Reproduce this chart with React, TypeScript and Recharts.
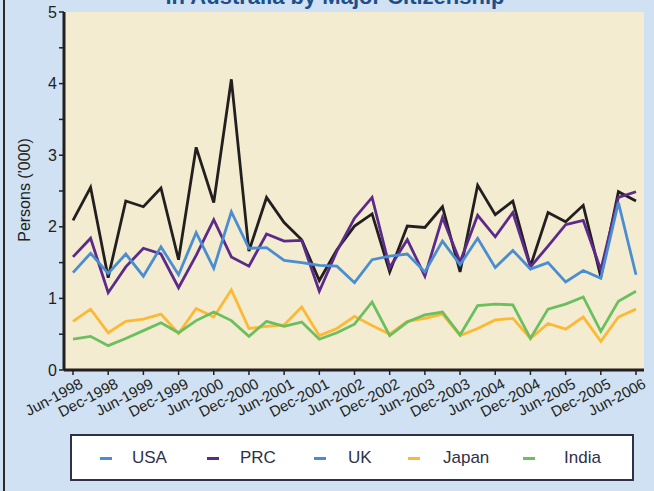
import React from "react";
import { Line, LineChart, XAxis, YAxis } from "recharts";

const quarters = [
  "Jun-1998", "Sep-1998", "Dec-1998", "Mar-1999", "Jun-1999", "Sep-1999", "Dec-1999", "Mar-2000",
  "Jun-2000", "Sep-2000", "Dec-2000", "Mar-2001", "Jun-2001", "Sep-2001", "Dec-2001", "Mar-2002",
  "Jun-2002", "Sep-2002", "Dec-2002", "Mar-2003", "Jun-2003", "Sep-2003", "Dec-2003", "Mar-2004",
  "Jun-2004", "Sep-2004", "Dec-2004", "Mar-2005", "Jun-2005", "Sep-2005", "Dec-2005", "Mar-2006",
  "Jun-2006",
];

const usa = [
  2.09, 2.55, 1.29, 2.36, 2.28, 2.54, 1.54, 3.11, 2.34, 4.06, 1.66, 2.41, 2.06, 1.82, 1.25, 1.68,
  2.01, 2.18, 1.37, 2.01, 1.99, 2.28, 1.37, 2.58, 2.17, 2.36, 1.45, 2.2, 2.07, 2.3, 1.3, 2.49, 2.36,
];
const prc = [
  1.58, 1.84, 1.08, 1.44, 1.7, 1.62, 1.15, 1.6, 2.1, 1.58, 1.45, 1.9, 1.8, 1.81, 1.1, 1.66,
  2.12, 2.41, 1.43, 1.82, 1.31, 2.13, 1.51, 2.16, 1.86, 2.2, 1.44, 1.73, 2.03, 2.09, 1.4, 2.41, 2.49,
];
const uk = [
  1.36, 1.63, 1.35, 1.62, 1.31, 1.72, 1.33, 1.92, 1.42, 2.21, 1.7, 1.71, 1.53, 1.5, 1.46, 1.45,
  1.22, 1.54, 1.59, 1.62, 1.37, 1.8, 1.47, 1.84, 1.43, 1.67, 1.41, 1.5, 1.23, 1.39, 1.28, 2.34, 1.33,
];
const japan = [
  0.68, 0.85, 0.52, 0.68, 0.71, 0.78, 0.51, 0.86, 0.74, 1.12, 0.58, 0.61, 0.63, 0.88, 0.48, 0.58,
  0.75, 0.62, 0.5, 0.68, 0.72, 0.78, 0.48, 0.58, 0.7, 0.72, 0.44, 0.65, 0.57, 0.74, 0.4, 0.74, 0.85,
];
const india = [
  0.43, 0.47, 0.34, 0.44, 0.55, 0.66, 0.52, 0.69, 0.81, 0.69, 0.47, 0.68, 0.61, 0.67, 0.43, 0.52,
  0.64, 0.95, 0.48, 0.67, 0.77, 0.81, 0.49, 0.9, 0.92, 0.91, 0.44, 0.85, 0.92, 1.02, 0.54, 0.96, 1.1,
];

const yTicks = [0, 0.5, 1, 1.5, 2, 2.5, 3, 3.5, 4, 4.5, 5];

const series = [
  { key: "USA", color: "#231f20" },
  { key: "PRC", color: "#5b2a8a" },
  { key: "UK", color: "#4a8dd0" },
  { key: "Japan", color: "#fdb933" },
  { key: "India", color: "#6cbf5f" },
];

// legend swatches as drawn in the original (USA shows blue there)
const legendItems = [
  { name: "USA", color: "#4a8dd0", x: 28, tx: 60 },
  { name: "PRC", color: "#5b2a8a", x: 135, tx: 168 },
  { name: "UK", color: "#4a8dd0", x: 242, tx: 276 },
  { name: "Japan", color: "#fdb933", x: 336, tx: 371 },
  { name: "India", color: "#6cbf5f", x: 451, tx: 492 },
];

const data = quarters.map((q, i) => ({
  name: q,
  USA: usa[i],
  PRC: prc[i],
  UK: uk[i],
  Japan: japan[i],
  India: india[i],
}));

const ink = "#231f20";
const font = "'Liberation Sans', Arial, sans-serif";

function XTick({ x, y, payload }: any) {
  return (
    <text
      transform={`translate(${x + 11},${y + 12}) rotate(-28)`}
      textAnchor="end"
      fontSize={15}
      fontFamily={font}
      fill={ink}
    >
      {payload.value}
    </text>
  );
}

export default function App() {
  return (
    <div
      style={{
        position: "absolute",
        left: 0,
        top: 0,
        width: 654,
        height: 491,
        background: "#cfe1f2",
        overflow: "hidden",
        fontFamily: font,
      }}
    >
      <div style={{ position: "absolute", left: 3, top: 0, width: 2, height: 491, background: "#2a2a2a" }} />
      <div
        style={{
          position: "absolute",
          left: 0,
          width: 654,
          top: -16,
          textAlign: "center",
          fontSize: 22,
          fontWeight: "bold",
          color: "#1d4f8a",
          paddingLeft: 8,
        }}
      >
        in Australia by Major Citizenship
      </div>
      <div
        style={{
          position: "absolute",
          left: 25,
          top: 190,
          transform: "translate(-50%, -50%) rotate(-90deg)",
          fontSize: 16,
          color: ink,
          whiteSpace: "nowrap",
        }}
      >
        Persons ('000)
      </div>
      <div style={{ position: "absolute", left: 64, top: 12, width: 580, height: 358, background: "#f3ecd0" }} />
      <div style={{ position: "absolute", left: 0, top: 0 }}>
        <LineChart width={654} height={430} data={data} margin={{ top: 12, right: 10, left: 0, bottom: 0 }}>
          <XAxis
            dataKey="name"
            interval={1}
            padding={{ left: 9, right: 8 }}
            height={60}
            tickSize={5}
            tickMargin={0}
            tick={<XTick />}
            axisLine={{ stroke: ink, strokeWidth: 3 }}
            tickLine={{ stroke: ink, strokeWidth: 1.5 }}
          />
          <XAxis
            xAxisId="top"
            orientation="top"
            dataKey="name"
            height={0}
            tick={false}
            tickLine={false}
            axisLine={{ stroke: ink, strokeWidth: 3 }}
          />
          <YAxis
            domain={[0, 5]}
            ticks={yTicks}
            width={64}
            tickSize={5}
            tickMargin={2}
            tickFormatter={(v: number) => (Number.isInteger(v) ? String(v) : "")}
            tick={{ fontSize: 16, fill: ink, fontFamily: font }}
            axisLine={{ stroke: ink, strokeWidth: 3 }}
            tickLine={{ stroke: ink, strokeWidth: 1.5 }}
          />
          <YAxis
            yAxisId="right"
            orientation="right"
            domain={[0, 5]}
            width={0}
            tick={false}
            tickLine={false}
            axisLine={{ stroke: ink, strokeWidth: 3 }}
          />
          {series.map((s) => (
            <Line
              key={s.key}
              dataKey={s.key}
              stroke={s.color}
              strokeWidth={2.8}
              dot={false}
              type="linear"
              isAnimationActive={false}
            />
          ))}
        </LineChart>
      </div>
      <div
        style={{
          position: "absolute",
          left: 70,
          top: 434,
          width: 560,
          height: 43,
          background: "#ffffff",
          border: "2px solid #2e3148",
        }}
      >
        {legendItems.map((it) => (
          <React.Fragment key={it.name}>
            <div
              style={{
                position: "absolute",
                left: it.x,
                top: 21,
                width: 12,
                height: 3,
                background: it.color,
              }}
            />
            <div
              style={{
                position: "absolute",
                left: it.tx,
                top: 12,
                fontSize: 17,
                color: "#2e3148",
              }}
            >
              {it.name}
            </div>
          </React.Fragment>
        ))}
      </div>
    </div>
  );
}
